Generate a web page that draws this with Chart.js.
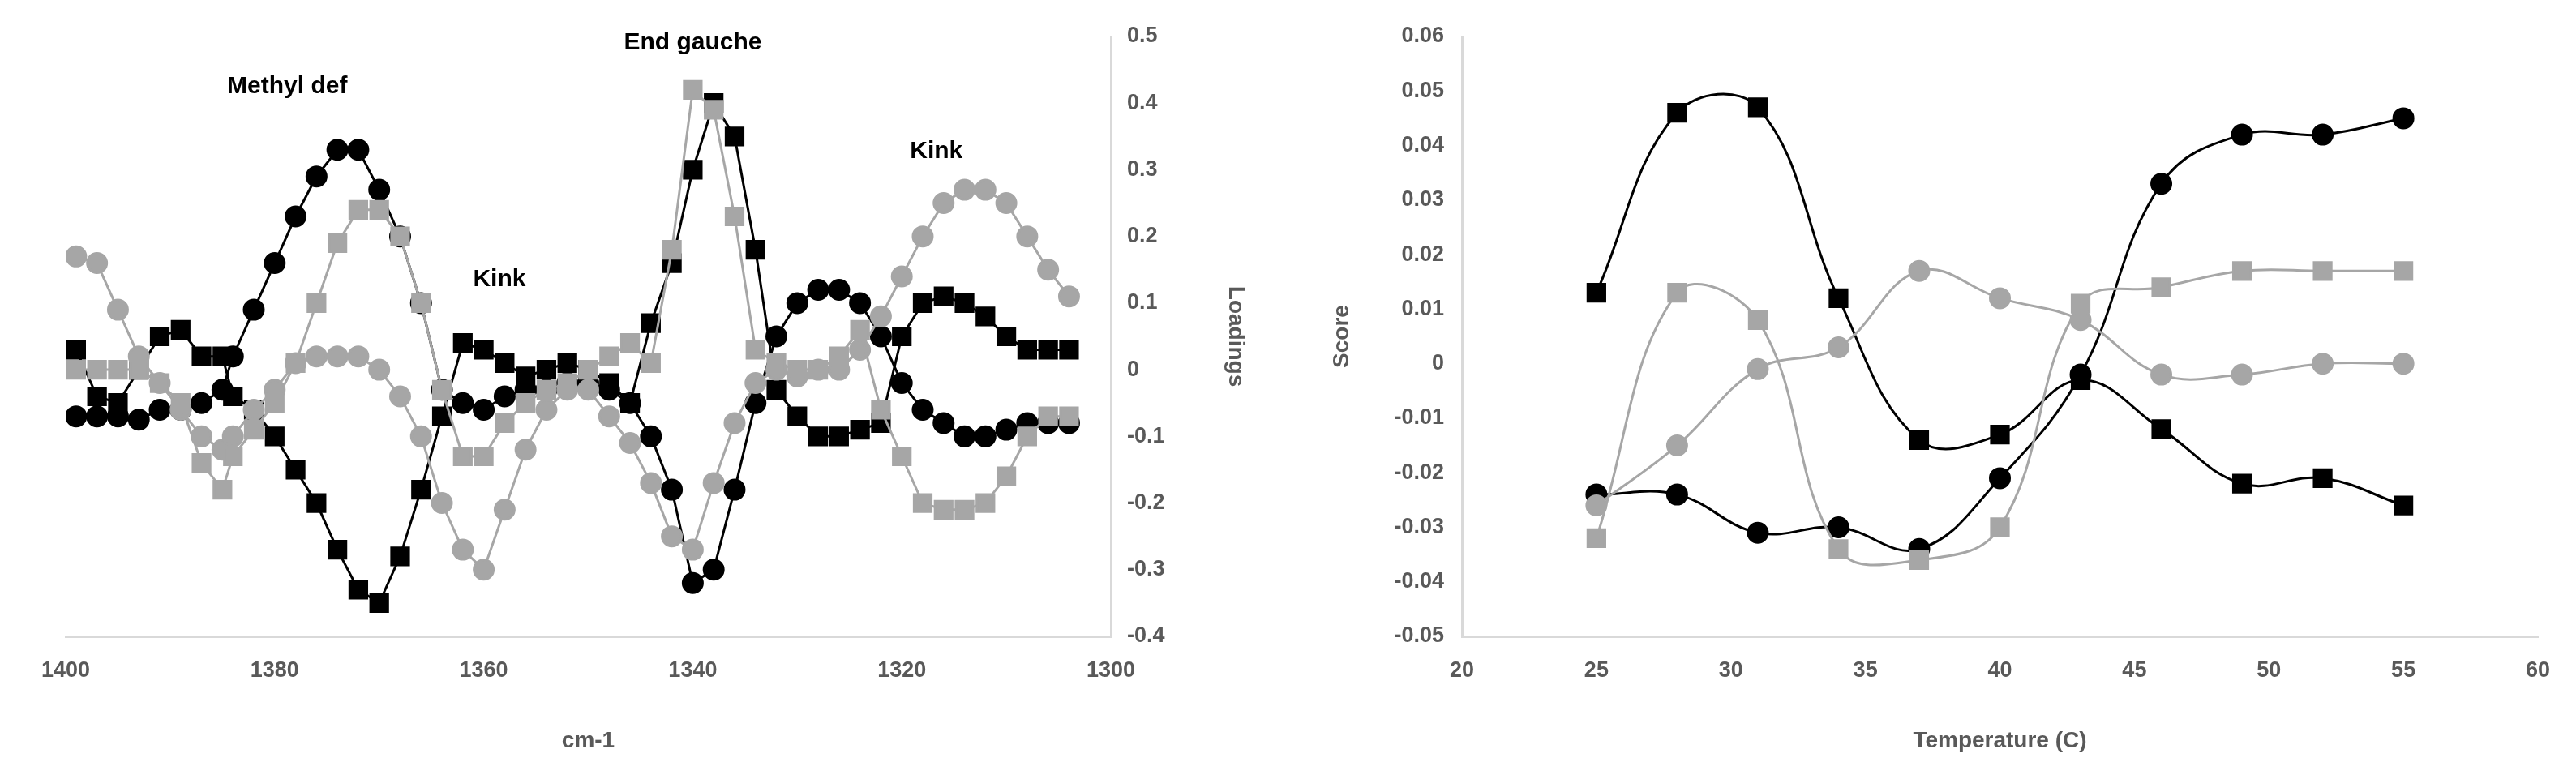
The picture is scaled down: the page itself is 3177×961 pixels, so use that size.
<!DOCTYPE html>
<html><head><meta charset="utf-8">
<script src="https://cdn.jsdelivr.net/npm/chart.js@4"></script>
<style>
body{margin:0;background:#fff;width:3177px;height:961px;position:relative;overflow:hidden}
.c{position:absolute;top:0;height:961px}
</style></head><body>
<div class="c" style="left:0;width:1590px"><canvas id="a"></canvas></div>
<div class="c" style="left:1590px;width:1587px"><canvas id="b"></canvas></div>
<script>
const wavenumbers=[1399,1397,1395,1393,1391,1389,1387,1385,1384,1382,1380,1378,1376,1374,1372,1370,1368,1366,1364,1362,1360,1358,1356,1354,1352,1350,1348,1346,1344,1342,1340,1338,1336,1334,1332,1330,1328,1326,1324,1322,1320,1318,1316,1314,1312,1310,1308,1306,1304];
const loadBlackCircle=[-0.07,-0.07,-0.07,-0.075,-0.06,-0.06,-0.05,-0.03,0.02,0.09,0.16,0.23,0.29,0.33,0.33,0.27,0.2,0.1,-0.03,-0.05,-0.06,-0.04,-0.03,-0.03,-0.02,-0.02,-0.03,-0.05,-0.1,-0.18,-0.32,-0.3,-0.18,-0.05,0.05,0.1,0.12,0.12,0.1,0.05,-0.02,-0.06,-0.08,-0.1,-0.1,-0.09,-0.08,-0.08,-0.08];
const loadBlackSquare=[0.03,-0.04,-0.05,0.0,0.05,0.06,0.02,0.02,-0.04,-0.06,-0.1,-0.15,-0.2,-0.27,-0.33,-0.35,-0.28,-0.18,-0.07,0.04,0.03,0.01,-0.01,0.0,0.01,0.0,-0.02,-0.05,0.07,0.16,0.3,0.4,0.35,0.18,-0.03,-0.07,-0.1,-0.1,-0.09,-0.08,0.05,0.1,0.11,0.1,0.08,0.05,0.03,0.03,0.03];
const loadGreyCircle=[0.17,0.16,0.09,0.02,-0.02,-0.06,-0.1,-0.12,-0.1,-0.06,-0.03,0.01,0.02,0.02,0.02,0.0,-0.04,-0.1,-0.2,-0.27,-0.3,-0.21,-0.12,-0.06,-0.03,-0.03,-0.07,-0.11,-0.17,-0.25,-0.27,-0.17,-0.08,-0.02,0.0,-0.01,0.0,0.0,0.03,0.08,0.14,0.2,0.25,0.27,0.27,0.25,0.2,0.15,0.11];
const loadGreySquare=[0.0,0.0,0.0,0.0,-0.02,-0.05,-0.14,-0.18,-0.13,-0.09,-0.05,0.01,0.1,0.19,0.24,0.24,0.2,0.1,-0.03,-0.13,-0.13,-0.08,-0.05,-0.03,-0.02,0.0,0.02,0.04,0.01,0.18,0.42,0.39,0.23,0.03,0.01,0.0,0.0,0.02,0.06,-0.06,-0.13,-0.2,-0.21,-0.21,-0.2,-0.16,-0.1,-0.07,-0.07];
const temps=[25,28,31,34,37,40,43,46,49,52,55];
const scoreBlackSquare=[0.013,0.046,0.047,0.012,-0.014,-0.013,-0.003,-0.012,-0.022,-0.021,-0.026];
const scoreBlackCircle=[-0.024,-0.024,-0.031,-0.030,-0.034,-0.021,-0.002,0.033,0.042,0.042,0.045];
const scoreGreySquare=[-0.032,0.013,0.008,-0.034,-0.036,-0.030,0.011,0.014,0.017,0.017,0.017];
const scoreGreyCircle=[-0.026,-0.015,-0.001,0.003,0.017,0.012,0.008,-0.002,-0.002,0.000,0.000];
const notes=[{t:'Methyl def',x:1378.8,y:0.425},{t:'End gauche',x:1340,y:0.49},{t:'Kink',x:1358.5,y:0.136},{t:'Kink',x:1316.7,y:0.328}];

const BLK='#000000',GRY='#a6a6a6',AX='#d9d9d9',TK='#595959';
const F="'Liberation Sans', Arial, sans-serif";
function pts(xs,ys){return xs.map((x,i)=>({x:x,y:ys[i]}));}
function ds(xs,ys,col,shape,tension){return {data:pts(xs,ys),borderColor:col,backgroundColor:col,pointStyle:shape,pointRadius:shape==='rect'?15:12,pointHoverRadius:shape==='rect'?15:12,borderWidth:3,tension:tension,cubicInterpolationMode:'default'};}
const tickFont={family:F,size:27,weight:'bold'};
const titleFont={family:F,size:28,weight:'bold'};
const notePlugin={id:'notes',afterDatasetsDraw(c){const g=c.ctx,xs=c.scales.x,ys=c.scales.y;g.save();g.font="bold 30px "+F;g.fillStyle='#000';g.textAlign='center';g.textBaseline='middle';notes.forEach(n=>g.fillText(n.t,xs.getPixelForValue(n.x),ys.getPixelForValue(n.y)));g.restore();}};

new Chart(document.getElementById('a'),{type:'line',
 data:{datasets:[ds(wavenumbers,loadGreySquare,GRY,'rect',0),ds(wavenumbers,loadGreyCircle,GRY,'circle',0),ds(wavenumbers,loadBlackCircle,BLK,'circle',0),ds(wavenumbers,loadBlackSquare,BLK,'rect',0)]},
 options:{responsive:true,maintainAspectRatio:false,animation:false,devicePixelRatio:1,
  layout:{padding:{left:81,right:45,top:45,bottom:26}},
  plugins:{legend:{display:false},tooltip:{enabled:false}},
  scales:{
   x:{type:'linear',reverse:true,min:1300,max:1400,grid:{display:false,drawTicks:false},border:{color:AX,width:3},
      ticks:{stepSize:20,color:TK,font:tickFont,padding:26,maxRotation:0,callback:v=>String(v)},
      title:{display:true,text:'cm-1',color:TK,font:titleFont,padding:{top:24}},
      afterFit(s){s.height=150;}},
   y:{position:'right',min:-0.4,max:0.5,grid:{display:false,drawTicks:false},border:{color:AX,width:3},
      ticks:{stepSize:0.1,color:TK,font:tickFont,padding:20,callback:v=>String(Math.round(v*10)/10)},
      title:{display:true,text:'Loadings',color:TK,font:titleFont},
      afterFit(s){s.width=175;}}
  }},plugins:[notePlugin]});

new Chart(document.getElementById('b'),{type:'line',
 data:{datasets:[ds(temps,scoreGreySquare,GRY,'rect',0.4),ds(temps,scoreGreyCircle,GRY,'circle',0.4),ds(temps,scoreBlackCircle,BLK,'circle',0.4),ds(temps,scoreBlackSquare,BLK,'rect',0.4)]},
 options:{responsive:true,maintainAspectRatio:false,animation:false,devicePixelRatio:1,
  layout:{padding:{left:44,right:47,top:45,bottom:26}},
  plugins:{legend:{display:false},tooltip:{enabled:false}},
  scales:{
   x:{type:'linear',min:20,max:60,grid:{display:false,drawTicks:false},border:{color:AX,width:3},
      ticks:{stepSize:5,color:TK,font:tickFont,padding:26,maxRotation:0},
      title:{display:true,text:'Temperature (C)',color:TK,font:titleFont,padding:{top:24}},
      afterFit(s){s.height=150;}},
   y:{min:-0.05,max:0.06,grid:{display:false,drawTicks:false},border:{color:AX,width:3},
      ticks:{stepSize:0.01,color:TK,font:tickFont,padding:22,callback:v=>String(Math.round(v*100)/100)},
      title:{display:true,text:'Score',color:TK,font:titleFont},
      afterFit(s){s.width=169;}}
  }}});
</script></body></html>
